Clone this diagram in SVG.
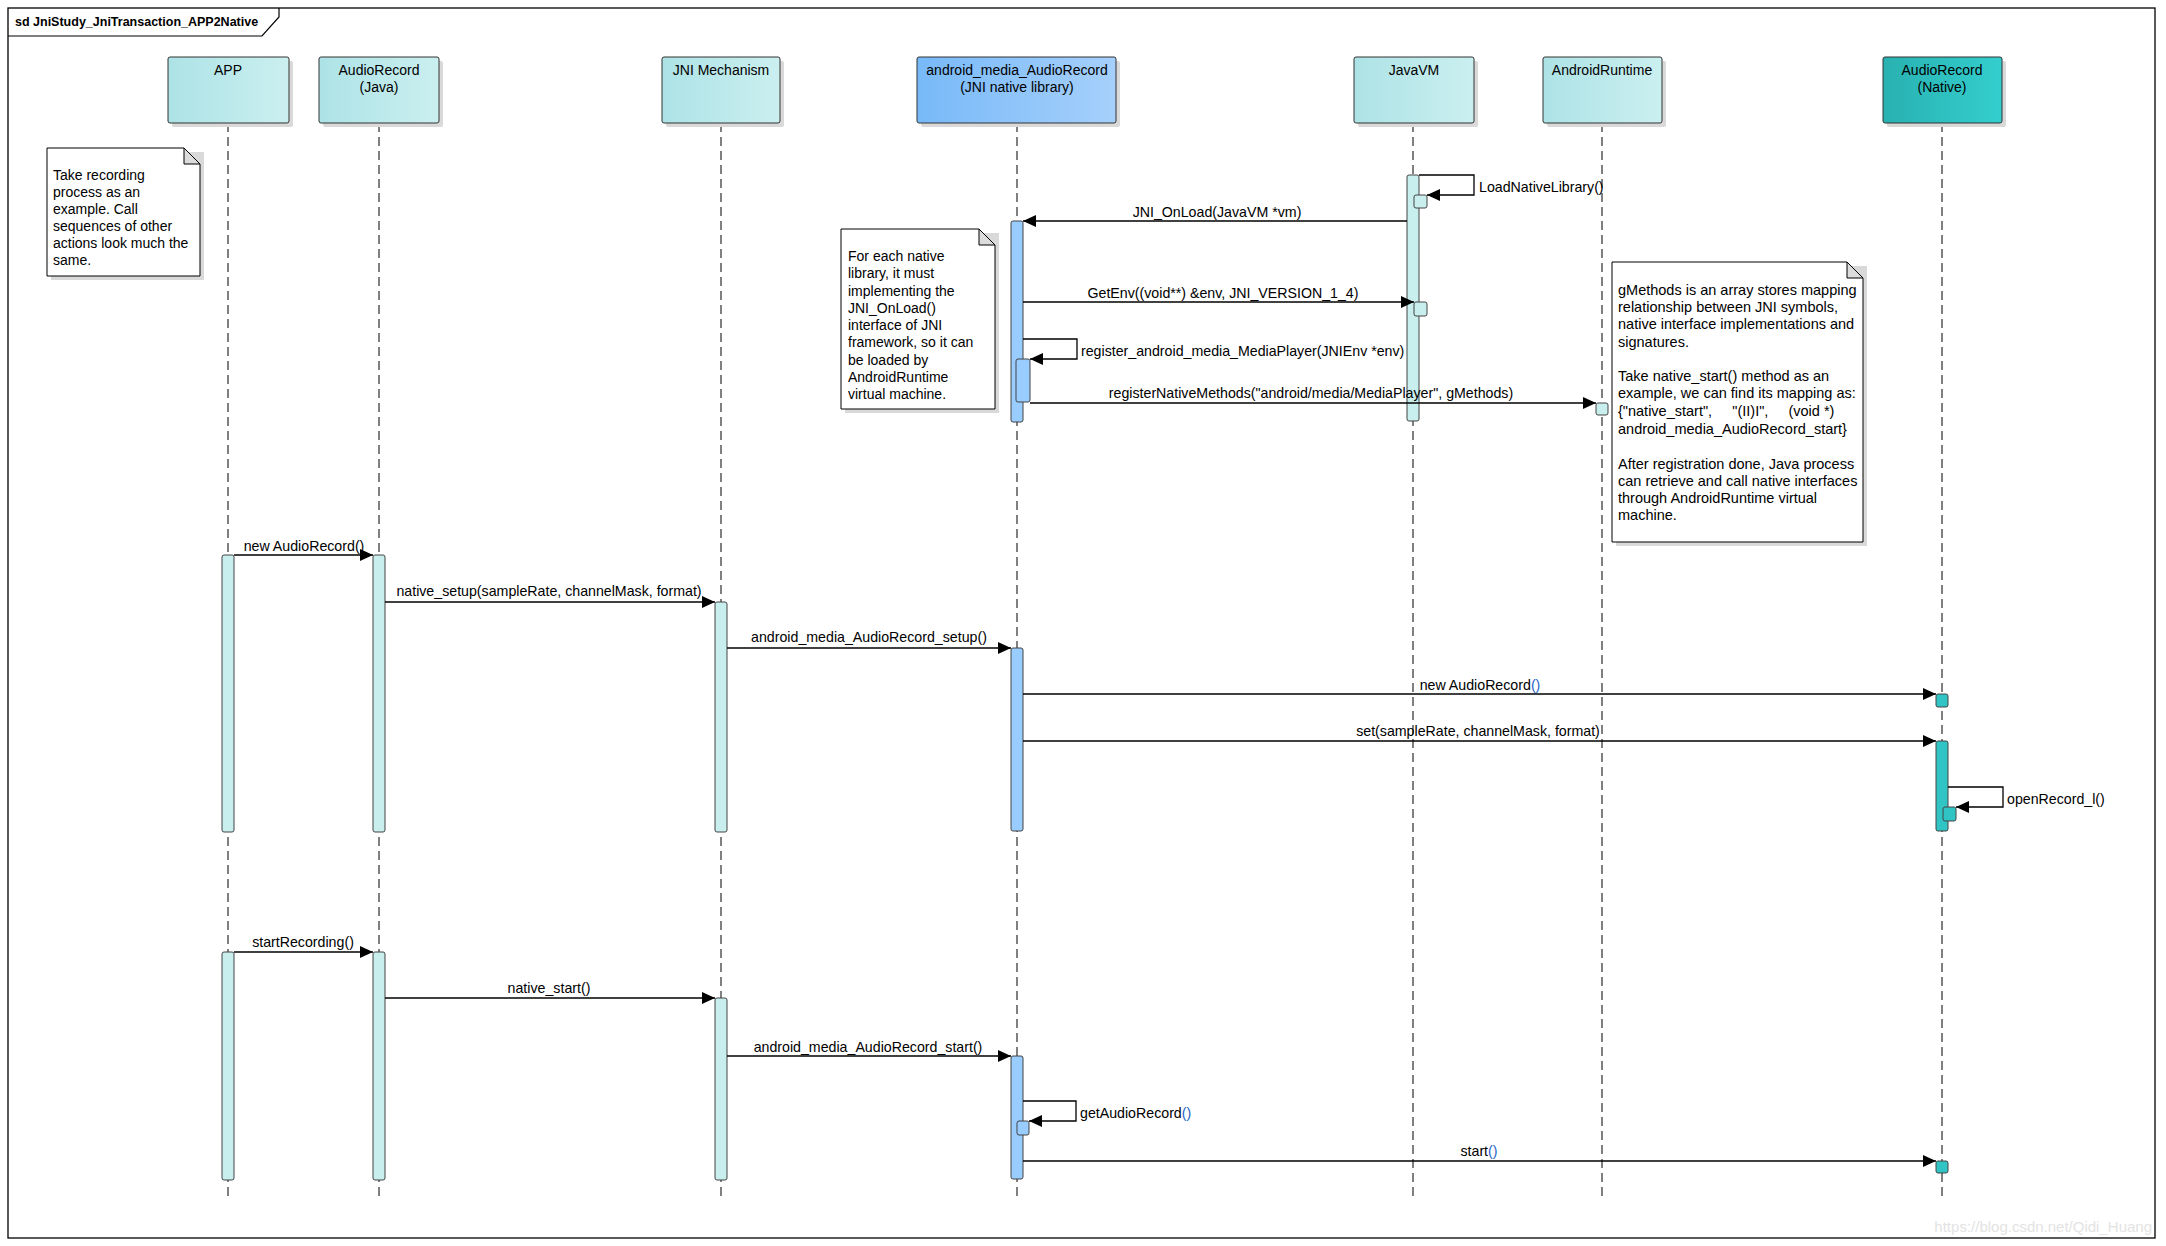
<svg xmlns="http://www.w3.org/2000/svg" width="2166" height="1246" viewBox="0 0 2166 1246">
<defs>
<linearGradient id="gTeal" x1="0" y1="0" x2="1" y2="0"><stop offset="0" stop-color="#ade3e6"/><stop offset="1" stop-color="#cbeff0"/></linearGradient>
<linearGradient id="gBlue" x1="0" y1="0" x2="1" y2="0"><stop offset="0" stop-color="#78b9f8"/><stop offset="1" stop-color="#a6d0fb"/></linearGradient>
<linearGradient id="gNative" x1="0" y1="0" x2="1" y2="0"><stop offset="0" stop-color="#29b1b1"/><stop offset="1" stop-color="#34cece"/></linearGradient>
<marker id="ah" viewBox="0 0 13 12" refX="13" refY="6" markerWidth="13" markerHeight="12" orient="auto" markerUnits="userSpaceOnUse"><path d="M0,0 L13,6 L0,12 z" fill="#000"/></marker>
</defs>
<style>
text{font-family:"Liberation Sans",Arial,sans-serif;fill:#000}
.head{font-size:14px;text-anchor:middle}
.msg{font-size:14.2px}
.mid{text-anchor:middle}
.note{font-size:14px}
.note2{font-size:14.5px}
.box{stroke:#333;stroke-width:1}
.shadow{fill:#d9d9d9}
.life{stroke:#000;stroke-width:1;stroke-dasharray:9,5;fill:none}
.act{stroke:#444;stroke-width:1}
.aT{fill:#c8eeee}
.aB{fill:#99ccff}
.aN{fill:#30c4c4}
.line{stroke:#000;stroke-width:1.3;fill:none;marker-end:url(#ah)}
.par{fill:#1e64c8}
</style>
<rect x="0" y="0" width="2166" height="1246" fill="#fff"/>
<g id="frame">
<rect x="8" y="8" width="2147" height="1230" fill="none" stroke="#000" stroke-width="1.3"/>
<path d="M8,36 H262 L279,17 V8" fill="none" stroke="#000" stroke-width="1.2"/>
<text x="15" y="26" style="font-size:12.5px;font-weight:bold">sd JniStudy_JniTransaction_APP2Native</text>
</g>
<g id="lifelines">
<line class="life" x1="228" y1="123" x2="228" y2="1197"/>
<line class="life" x1="379" y1="123" x2="379" y2="1197"/>
<line class="life" x1="721" y1="123" x2="721" y2="1197"/>
<line class="life" x1="1017" y1="123" x2="1017" y2="1197"/>
<line class="life" x1="1413" y1="123" x2="1413" y2="1197"/>
<line class="life" x1="1602" y1="123" x2="1602" y2="1197"/>
<line class="life" x1="1942" y1="123" x2="1942" y2="1197"/>
</g>
<g id="node-app">
<rect class="shadow" x="172" y="61" width="121" height="66" rx="2"/>
<rect class="box" x="168" y="57" width="121" height="66" rx="2" fill="url(#gTeal)"/>
<text class="head" x="228" y="75">APP</text>
</g>
<g id="node-audiorecord-java">
<rect class="shadow" x="323" y="61" width="120" height="66" rx="2"/>
<rect class="box" x="319" y="57" width="120" height="66" rx="2" fill="url(#gTeal)"/>
<text class="head" x="379" y="75">AudioRecord</text>
<text class="head" x="379" y="92">(Java)</text>
</g>
<g id="node-jni-mechanism">
<rect class="shadow" x="666" y="61" width="118" height="66" rx="2"/>
<rect class="box" x="662" y="57" width="118" height="66" rx="2" fill="url(#gTeal)"/>
<text class="head" x="721" y="75">JNI Mechanism</text>
</g>
<g id="node-android-media">
<rect class="shadow" x="921" y="61" width="199" height="66" rx="2"/>
<rect class="box" x="917" y="57" width="199" height="66" rx="2" fill="url(#gBlue)"/>
<text class="head" x="1017" y="75">android_media_AudioRecord</text>
<text class="head" x="1017" y="92">(JNI native library)</text>
</g>
<g id="node-javavm">
<rect class="shadow" x="1358" y="61" width="120" height="66" rx="2"/>
<rect class="box" x="1354" y="57" width="120" height="66" rx="2" fill="url(#gTeal)"/>
<text class="head" x="1414" y="75">JavaVM</text>
</g>
<g id="node-androidruntime">
<rect class="shadow" x="1547" y="61" width="119" height="66" rx="2"/>
<rect class="box" x="1543" y="57" width="119" height="66" rx="2" fill="url(#gTeal)"/>
<text class="head" x="1602" y="75">AndroidRuntime</text>
</g>
<g id="node-audiorecord-native">
<rect class="shadow" x="1887" y="61" width="119" height="66" rx="2"/>
<rect class="box" x="1883" y="57" width="119" height="66" rx="2" fill="url(#gNative)"/>
<text class="head" x="1942" y="75">AudioRecord</text>
<text class="head" x="1942" y="92">(Native)</text>
</g>
<g id="note-take-recording">
<path class="shadow" d="M51,152 H204 V280 H51 z"/>
<path d="M47,148 H184 L200,164 V276 H47 z" fill="#fff" stroke="#000" stroke-width="1"/>
<path d="M184,148 V164 H200 z" fill="#dcdcdc" stroke="#000" stroke-width="1"/>
<text class="note" x="53" y="180">Take recording</text>
<text class="note" x="53" y="197">process as an</text>
<text class="note" x="53" y="214">example. Call</text>
<text class="note" x="53" y="231">sequences of other</text>
<text class="note" x="53" y="248">actions look much the</text>
<text class="note" x="53" y="265">same.</text>
</g>
<g id="note-jni-onload">
<path class="shadow" d="M845,233 H999 V413 H845 z"/>
<path d="M841,229 H979 L995,245 V409 H841 z" fill="#fff" stroke="#000" stroke-width="1"/>
<path d="M979,229 V245 H995 z" fill="#dcdcdc" stroke="#000" stroke-width="1"/>
<text class="note" x="848" y="261">For each native</text>
<text class="note" x="848" y="278">library, it must</text>
<text class="note" x="848" y="296">implementing the</text>
<text class="note" x="848" y="313">JNI_OnLoad()</text>
<text class="note" x="848" y="330">interface of JNI</text>
<text class="note" x="848" y="347">framework, so it can</text>
<text class="note" x="848" y="365">be loaded by</text>
<text class="note" x="848" y="382">AndroidRuntime</text>
<text class="note" x="848" y="399">virtual machine.</text>
</g>
<g id="note-gmethods">
<path class="shadow" d="M1616,266 H1867 V546 H1616 z"/>
<path d="M1612,262 H1847 L1863,278 V542 H1612 z" fill="#fff" stroke="#000" stroke-width="1"/>
<path d="M1847,262 V278 H1863 z" fill="#dcdcdc" stroke="#000" stroke-width="1"/>
<text class="note2" x="1618" y="295">gMethods is an array stores mapping</text>
<text class="note2" x="1618" y="312">relationship between JNI symbols,</text>
<text class="note2" x="1618" y="329">native interface implementations and</text>
<text class="note2" x="1618" y="347">signatures.</text>
<text class="note2" x="1618" y="381">Take native_start() method as an</text>
<text class="note2" x="1618" y="398">example, we can find its mapping as:</text>
<text class="note2" x="1618" y="416" xml:space="preserve">{"native_start",     "(II)I",     (void *)</text>
<text class="note2" x="1618" y="434">android_media_AudioRecord_start}</text>
<text class="note2" x="1618" y="469">After registration done, Java process</text>
<text class="note2" x="1618" y="486">can retrieve and call native interfaces</text>
<text class="note2" x="1618" y="503">through AndroidRuntime virtual</text>
<text class="note2" x="1618" y="520">machine.</text>
</g>
<g id="activations">
<rect class="act aT" x="1407" y="175" width="12" height="246" rx="2"/>
<rect class="act aT" x="1414" y="195" width="13" height="13" rx="2"/>
<rect class="act aT" x="1414" y="302" width="13" height="14" rx="2"/>
<rect class="act aT" x="1596" y="403" width="12" height="12" rx="2"/>
<rect class="act aB" x="1011" y="221" width="12" height="201" rx="2"/>
<rect class="act aB" x="1016" y="359" width="14" height="43" rx="2"/>
<rect class="act aT" x="222" y="555" width="12" height="277" rx="2"/>
<rect class="act aT" x="373" y="555" width="12" height="277" rx="2"/>
<rect class="act aT" x="715" y="602" width="12" height="230" rx="2"/>
<rect class="act aB" x="1011" y="648" width="12" height="183" rx="2"/>
<rect class="act aN" x="1936" y="694" width="12" height="13" rx="2"/>
<rect class="act aN" x="1936" y="741" width="12" height="90" rx="2"/>
<rect class="act aN" x="1943" y="807" width="13" height="14" rx="2"/>
<rect class="act aT" x="222" y="952" width="12" height="228" rx="2"/>
<rect class="act aT" x="373" y="952" width="12" height="228" rx="2"/>
<rect class="act aT" x="715" y="998" width="12" height="182" rx="2"/>
<rect class="act aB" x="1011" y="1056" width="12" height="123" rx="2"/>
<rect class="act aB" x="1017" y="1121" width="12" height="14" rx="2"/>
<rect class="act aN" x="1936" y="1161" width="12" height="12" rx="2"/>
</g>
<g id="connectors">
<path class="line" d="M1419,175 H1474 V195 H1427"/>
<path class="line" d="M1407,221 H1023"/>
<path class="line" d="M1023,302 H1414"/>
<path class="line" d="M1023,339 H1077 V359 H1030"/>
<path class="line" d="M1030,403 H1596"/>
<path class="line" d="M234,555 H373"/>
<path class="line" d="M385,602 H715"/>
<path class="line" d="M727,648 H1011"/>
<path class="line" d="M1023,694 H1936"/>
<path class="line" d="M1023,741 H1936"/>
<path class="line" d="M1948,787 H2003 V807 H1956"/>
<path class="line" d="M234,952 H373"/>
<path class="line" d="M385,998 H715"/>
<path class="line" d="M727,1056 H1011"/>
<path class="line" d="M1023,1101 H1076 V1121 H1029"/>
<path class="line" d="M1023,1161 H1936"/>
</g>
<g id="labels">
<text class="msg" x="1479" y="192">LoadNativeLibrary()</text>
<text class="msg mid" x="1217" y="217">JNI_OnLoad(JavaVM *vm)</text>
<text class="msg mid" x="1223" y="298">GetEnv((void**) &amp;env, JNI_VERSION_1_4)</text>
<text class="msg" x="1081" y="356">register_android_media_MediaPlayer(JNIEnv *env)</text>
<text class="msg mid" x="1311" y="398">registerNativeMethods("android/media/MediaPlayer", gMethods)</text>
<text class="msg mid" x="304" y="551">new AudioRecord()</text>
<text class="msg mid" x="549" y="596">native_setup(sampleRate, channelMask, format)</text>
<text class="msg mid" x="869" y="642">android_media_AudioRecord_setup()</text>
<text class="msg mid" x="1480" y="690">new AudioRecord<tspan class="par">()</tspan></text>
<text class="msg mid" x="1478" y="736">set(sampleRate, channelMask, format)</text>
<text class="msg" x="2007" y="804">openRecord_l()</text>
<text class="msg mid" x="303" y="947">startRecording()</text>
<text class="msg mid" x="549" y="993">native_start()</text>
<text class="msg mid" x="868" y="1052">android_media_AudioRecord_start()</text>
<text class="msg" x="1080" y="1118">getAudioRecord<tspan class="par">()</tspan></text>
<text class="msg mid" x="1479" y="1156">start<tspan class="par">()</tspan></text>
</g>
<text x="2152" y="1232" style="font-size:15px;fill:#e3e3e3;text-anchor:end">https://blog.csdn.net/Qidi_Huang</text>
</svg>
